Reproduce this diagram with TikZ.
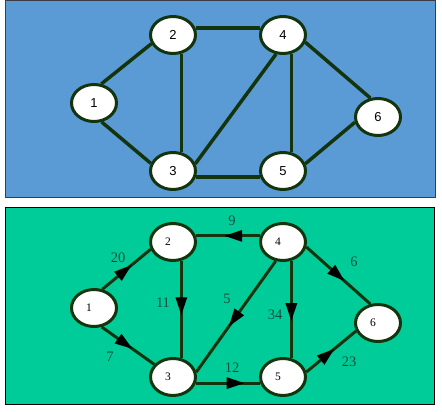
\documentclass[tikz,border=0pt]{standalone}
\usepackage{fontspec}
\setmainfont{Liberation Sans}
\newfontfamily\serifx{Liberation Serif}
\usetikzlibrary{shapes.geometric,arrows.meta,decorations.markings}
\definecolor{topbg}{RGB}{91,155,213}
\definecolor{botbg}{RGB}{0,204,153}
\definecolor{edgec}{RGB}{20,52,14}
\definecolor{labc}{RGB}{12,78,62}
\pgfdeclarelayer{bg}
\pgfdeclarelayer{edges}
\pgfsetlayers{bg,edges,main}
\newcommand\blab[1]{#1\hspace*{10pt}}
\tikzset{
  x=1pt,y=-1pt,
  vert/.style={ellipse,draw=edgec,line width=3pt,fill=white,minimum width=45pt,minimum height=37pt,inner sep=0pt},
  tv/.style={vert,font=\fontsize{13}{13}\selectfont},
  bv/.style={vert,font=\serifx\fontsize{11.5}{11.5}\selectfont},
  uedge/.style={draw=edgec,line width=3.5pt},
  dedge/.style={draw=edgec,line width=3pt,postaction={decorate},
    decoration={markings,mark=at position #1 with {\arrow{Triangle[length=18pt,width=11pt,color=black]}}}},
  dedge/.default=0.6,
  elab/.style={text=labc,font=\serifx\fontsize{14.5}{14.5}\selectfont,inner sep=0pt},
}
\begin{document}
\begin{tikzpicture}
\useasboundingbox (0,0) rectangle (442,412);
\begin{pgfonlayer}{bg}
\fill[white] (0,0) rectangle (442,412);
\draw[fill=topbg,draw={rgb,255:red,60;green,60;blue,70},line width=1pt] (5,1) rectangle (435,197);
\draw[fill=botbg,draw=black,line width=1pt] (5,207) rectangle (434,404);
\end{pgfonlayer}
% top graph
\node[tv] (t1) at (94,103) {1};
\node[tv] (t2) at (173,35) {2};
\node[tv] (t3) at (173,171) {3};
\node[tv] (t4) at (283,35) {4};
\node[tv] (t5) at (283,171) {5};
\node[tv] (t6) at (378,117) {6};
\begin{pgfonlayer}{edges}
\draw[uedge] (t1.69) -- (t2.202);
\draw[uedge] (t1.292) -- (t3.161);
\draw[uedge] (t2.17) -- (t4.163);
\draw[uedge] (t2.294) -- (t3.66);
\draw[uedge] (t3.18) -- (t4.250);
\draw[uedge] (t4.294) -- (t5.66);
\draw[uedge] (t3.345) -- (t5.195);
\draw[uedge] (t4.342) -- (t6.112);
\draw[uedge] (t5.18) -- (t6.193);
\end{pgfonlayer}
% bottom graph
\node[bv] (b1) at (94,308) {\blab{1}};
\node[bv] (b2) at (173,242) {\blab{2}};
\node[bv] (b3) at (173,377) {\blab{3}};
\node[bv] (b4) at (283,242) {\blab{4}};
\node[bv] (b5) at (283,377) {\blab{5}};
\node[bv] (b6) at (378,323) {\blab{6}};
\begin{pgfonlayer}{edges}
\draw[dedge=0.61] (b1.66) -- (b2.198);
\draw[dedge=0.59] (b1.292) -- (b3.146);
\draw[dedge=0.56] (b2.294) -- (b3.66);
\draw[dedge=0.56] (b4.165) -- (b2.15);
\draw[dedge=0.59] (b4.249) -- (b3.12);
\draw[dedge=0.62] (b4.294) -- (b5.66);
\draw[dedge=0.60] (b4.348) -- (b6.112);
\draw[dedge=0.76] (b3.345) -- (b5.195);
\draw[dedge=0.57] (b5.12) -- (b6.200);
\end{pgfonlayer}
\node[elab] (l12) at (118,258) {20};
\node[elab] (l13) at (110,357) {7};
\node[elab] (l23) at (163,303) {11};
\node[elab] (l42) at (232,221) {9};
\node[elab] (l43) at (227,299) {5};
\node[elab] (l45) at (275,315) {34};
\node[elab] (l46) at (354,262) {6};
\node[elab] (l35) at (232,368) {12};
\node[elab] (l56) at (349,362) {23};
\end{tikzpicture}
\end{document}
